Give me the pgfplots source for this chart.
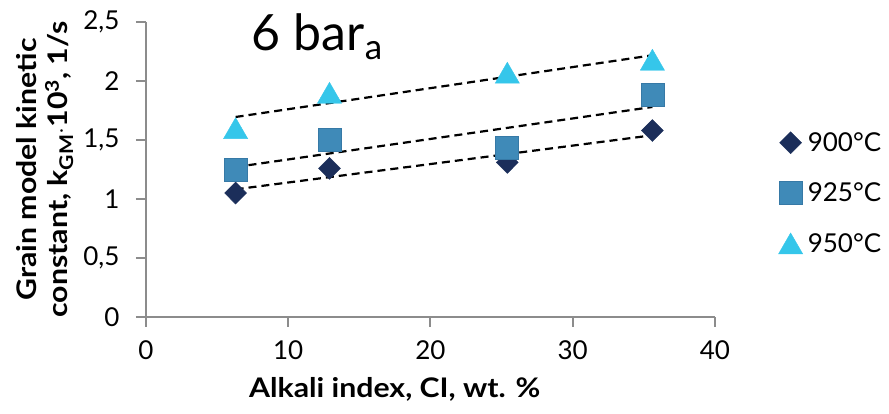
\documentclass[border=0pt]{standalone}
\usepackage{fontspec}
\setmainfont{Lato}
\newfontfamily\lblfont{Lato}[FakeStretch=1.12]
\usepackage{pgfplots}
\pgfplotsset{compat=1.18}
\definecolor{c900}{HTML}{1B2E5A}
\definecolor{c925}{HTML}{3F8AB8}
\definecolor{c925d}{HTML}{3679A6}
\definecolor{c950}{HTML}{35C6EA}
\definecolor{axgray}{HTML}{8C8C8C}
\begin{document}
\begin{tikzpicture}[x=1pt,y=1pt]
\useasboundingbox (-146,-97) rectangle (743,317);
\begin{axis}[
  at={(0,0)}, anchor=south west,
  scale only axis, width=569pt, height=295pt,
  xmin=0, xmax=40, ymin=0, ymax=2.5,
  xtick={0,10,20,30,40}, ytick={0,0.5,1,1.5,2,2.5},
  axis x line*=bottom, axis y line*=left,
  axis line style={axgray, line width=2pt, -},
  tick style={axgray, line width=2pt},
  tick align=outside, major tick length=10pt,
  /pgf/number format/use comma,
  /pgf/number format/assume math mode=true,
  ticklabel style={font=\fontsize{26}{30}\selectfont},
  xticklabel shift=10pt,
  yticklabel shift=13pt,
  xlabel={\bfseries Alkali index, CI, wt. \%},
  ylabel={\bfseries Grain model kinetic\\\bfseries constant, k\textsubscript{GM}$\cdot$10\textsuperscript{3}, 1/s},
  label style={font=\lblfont\fontsize{27}{31}\selectfont},
  xlabel style={at={(axis description cs:0.437,-0.245)}, anchor=center},
  ylabel style={at={(axis description cs:-0.1775,0.5)}, anchor=center, align=center, rotate=0},
  legend style={draw=none, fill=none, at={(1.106,0.42)}, anchor=west,
    font=\fontsize{26}{30}\selectfont, row sep=26pt, cells={anchor=west},
    /tikz/every odd column/.append style={column sep=3pt}},
  legend cell align=left,
  clip=false,
]
\addplot[only marks, mark=diamond*, mark size=11pt, color=c900, mark options={xscale=1.33}] coordinates {
(6.3,1.05) (12.9,1.26) (25.4,1.31) (35.6,1.58)};
\addlegendentry{900°C}
\addplot[only marks, mark=square*, mark size=11.5pt, draw=c925d, fill=c925, mark options={fill=c925, draw=c925d, line width=0.8pt}] coordinates {
(6.3,1.25) (12.9,1.50) (25.4,1.43) (35.6,1.88)};
\addlegendentry{925°C}
\addplot[only marks, mark=triangle*, mark size=14pt, color=c950, mark options={yshift=-3.5pt}] coordinates {
(6.3,1.60) (12.9,1.90) (25.4,2.07) (35.6,2.18)};
\addlegendentry{950°C}
\addplot[black, line width=2.2pt, dash pattern=on 8pt off 5pt, forget plot] coordinates {(6.3,1.082) (35.6,1.540)};
\addplot[black, line width=2.2pt, dash pattern=on 8pt off 5pt, forget plot] coordinates {(6.3,1.271) (35.6,1.780)};
\addplot[black, line width=2.2pt, dash pattern=on 8pt off 5pt, forget plot] coordinates {(6.3,1.695) (35.6,2.218)};
\node[anchor=base west, font=\fontsize{50}{54}\selectfont] at (axis cs:7.2,2.26) {6 bar\textsubscript{a}};
\end{axis}
\end{tikzpicture}
\end{document}
